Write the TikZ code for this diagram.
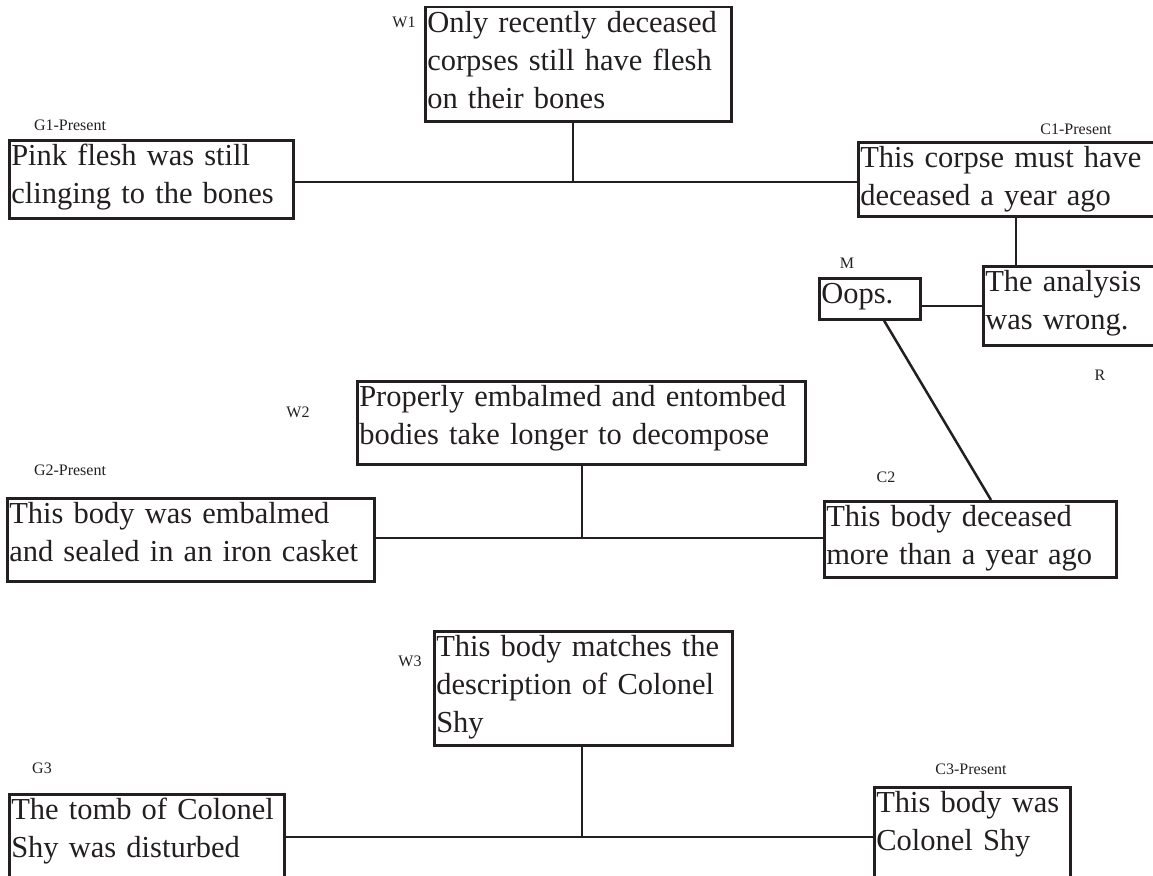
\documentclass[tikz,border=0pt]{standalone}
\usepackage{fontspec}
\setmainfont{Liberation Serif}
\definecolor{ink}{HTML}{231F20}
\begin{document}
\begin{tikzpicture}[x=1pt,y=-1pt,line width=2.5pt,
	box/.style={draw=ink,anchor=north west,align=left,inner xsep=2pt,inner ysep=0pt,
		text=ink,font=\fontsize{30.5}{38}\selectfont,text height=25pt,
		execute at begin node={\hyphenpenalty=10000}},
	tag/.style={text=ink,inner sep=0pt,font=\fontsize{16}{19}\selectfont}]
	\useasboundingbox (0,0) rectangle (1153,875);
	\clip (0,0) rectangle (1153,875);
	% first argument
	\node[box,text width=302pt,text depth=89pt] (w1) at (424,6) {Only recently deceased\\corpses still have flesh\\on their bones};
	\node[box,text width=280pt,text depth=53pt] (g1) at (8,139) {Pink flesh was still\\clinging to the bones};
	\node[box,text width=306pt,text depth=49pt] (c1) at (857,141) {This corpse must have\\deceased a year ago};
	\node[box,text width=196pt,text depth=54pt] (r) at (982,265) {The analysis\\was wrong.};
	\node[box,text width=97pt,text depth=16pt] (m) at (818,277) {Oops.};
	% second argument
	\node[box,text width=444pt,text depth=58pt] (w2) at (356,380) {Properly embalmed and entombed\\bodies take longer to decompose};
	\node[box,text width=363pt,text depth=58pt] (g2) at (6,497) {This body was embalmed\\and sealed in an iron casket};
	\node[box,text width=288pt,text depth=51pt] (c2) at (823,500) {This body deceased\\more than a year ago};
	% third argument
	\node[box,text width=294pt,text depth=89pt] (w3) at (433,630) {This body matches the\\description of Colonel\\Shy};
	\node[box,text width=271pt,text depth=75pt] (g3) at (8,793) {The tomb of Colonel\\Shy was disturbed};
	\node[box,text width=192pt,text depth=75pt] (c3) at (873,786) {This body was\\Colonel Shy};
	% tags
	\node[tag] (lw1) at (404,22) {W1};
	\node[tag] (lg1) at (70,125) {G1-Present};
	\node[tag] (lc1) at (1076,129) {C1-Present};
	\node[tag] (lm) at (847,263) {M};
	\node[tag] (lr) at (1100,375) {R};
	\node[tag] (lw2) at (298,412) {W2};
	\node[tag] (lg2) at (70,470) {G2-Present};
	\node[tag] (lc2) at (886,477) {C2};
	\node[tag] (lw3) at (410,661) {W3};
	\node[tag] (lg3) at (42,768) {G3};
	\node[tag] (lc3) at (971,769) {C3-Present};
	% joints
	\coordinate (j1) at (573,182);
	\coordinate (j2) at (582,538);
	\coordinate (j3) at (582,837);
	\coordinate (k1) at (1016,0);
	\coordinate (k2) at (884,0);
	\coordinate (k3) at (991,0);
	\draw[ink] (g1.east |- j1) -- (c1.west |- j1);
	\draw[ink] (w1.south -| j1) -- (j1);
	\draw[ink] (c1.south -| k1) -- (r.north -| k1);
	\draw[ink] (m.east |- r.west) -- (r.west);
	\draw[ink] (m.south -| k2) -- (c2.north -| k3);
	\draw[ink] (g2.east |- j2) -- (c2.west |- j2);
	\draw[ink] (w2.south -| j2) -- (j2);
	\draw[ink] (g3.east |- j3) -- (c3.west |- j3);
	\draw[ink] (w3.south -| j3) -- (j3);
\end{tikzpicture}
\end{document}
